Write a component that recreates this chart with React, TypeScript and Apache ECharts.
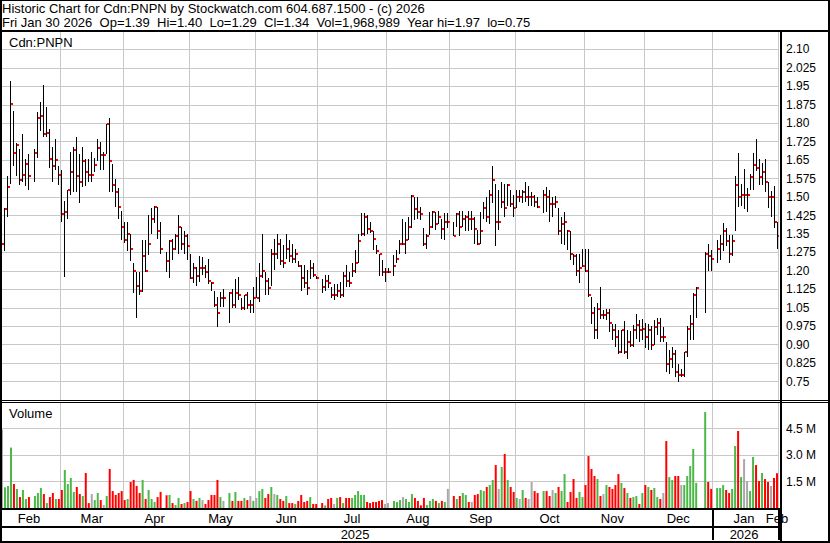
import React, { useEffect, useRef } from "react";
import * as echarts from "echarts";

// ---------- data (one slot per weekday, Feb 3 2025 .. Jan 30 2026; null = exchange holiday) ----------
const highs: (number | null)[] = [
  1.39, 1.455, 1.585, 1.97, 1.85, 1.72, 1.695, 1.755, 1.655, 1.675,
  null, 1.695, 1.845, 1.885, 1.955, 1.865, 1.775, 1.705, 1.735, 1.625,
  1.61, 1.485, 1.53, 1.685, 1.705, 1.745, 1.675, 1.705, 1.655, 1.655,
  1.685, 1.66, 1.735, 1.725, 1.685, 1.795, 1.82, 1.635, 1.575, 1.535,
  1.445, 1.40, 1.40, 1.35, 1.23, 1.195, 1.195, 1.325, 1.325, 1.425,
  1.455, 1.465, 1.46, 1.40, null, 1.275, 1.325, 1.33, 1.35, 1.425,
  1.38, 1.36, 1.35, 1.27, 1.23, 1.215, 1.26, 1.255, 1.225, 1.25,
  1.155, 1.12, 1.095, 1.115, 1.125, null, 1.115, 1.125, 1.165, 1.175,
  1.09, 1.10, 1.115, 1.08, 1.135, 1.175, 1.23, 1.35, 1.195, 1.17,
  1.29, 1.33, 1.35, 1.33, 1.305, 1.35, 1.325, 1.31, 1.29, 1.24,
  1.225, 1.225, 1.205, 1.245, 1.23, 1.18, null, 1.165, 1.185, 1.185,
  1.135, 1.145, 1.145, 1.155, 1.195, 1.225, 1.195, 1.23, 1.285, 1.35,
  1.435, 1.435, 1.425, 1.40, 1.36, 1.305, 1.27, 1.245, 1.21, 1.21,
  null, 1.265, 1.285, 1.325, 1.41, 1.40, 1.42, 1.51, 1.50, 1.50,
  1.46, 1.375, 1.35, 1.44, 1.445, 1.44, 1.445, 1.41, 1.435, 1.435,
  null, 1.40, 1.435, 1.445, 1.445, 1.425, 1.445, 1.445, 1.42, 1.365,
  1.44, 1.48, 1.50, 1.53, 1.625, 1.555, 1.53, 1.56, 1.555, 1.555,
  1.53, 1.51, 1.53, 1.53, 1.53, 1.56, 1.545, 1.52, 1.51, 1.50,
  null, 1.53, 1.54, 1.53, 1.50, 1.505, 1.455, 1.42, 1.44, 1.365,
  1.36, 1.27, 1.27, 1.27, 1.29, 1.29, 1.29, 1.095, 1.055, 1.07,
  1.135, 1.04, 1.045, 1.045, 0.985, 0.985, 0.96, 0.96, 0.995, 0.96,
  0.955, 0.98, 1.025, 1.00, 1.005, 0.99, 0.985, 0.975, 1.00, 1.01,
  1.01, 0.97, 0.91, 0.88, 0.89, 0.88, 0.82, 0.80, 0.87, 0.975,
  1.02, 1.11, 1.135, null, null, 1.275, 1.31, 1.285, null, 1.325,
  1.345, 1.395, 1.375, 1.345, 1.345, 1.585, 1.68, 1.555, 1.615, 1.535,
  1.595, 1.68, 1.735, 1.655, 1.64, 1.655, 1.56, 1.525, 1.545, 1.40,
];

const lows: (number | null)[] = [
  1.15, 1.28, 1.42, 1.555, 1.625, 1.585, 1.55, 1.56, 1.545, 1.53,
  null, 1.56, 1.66, 1.77, 1.745, 1.745, 1.62, 1.56, 1.61, 1.55,
  1.40, 1.175, 1.41, 1.51, 1.52, 1.52, 1.475, 1.54, 1.545, 1.56,
  1.56, 1.60, 1.645, 1.61, 1.61, 1.675, 1.52, 1.52, 1.46, 1.41,
  1.325, 1.315, 1.28, 1.24, 1.11, 1.01, 1.10, 1.115, 1.195, 1.265,
  1.35, 1.395, 1.33, 1.27, null, 1.195, 1.17, 1.245, 1.285, 1.27,
  1.285, 1.27, 1.245, 1.165, 1.15, 1.14, 1.155, 1.185, 1.17, 1.145,
  1.12, 1.055, 0.97, 1.055, 1.055, null, 0.99, 1.05, 1.05, 1.08,
  1.04, 1.04, 1.045, 1.03, 1.03, 1.09, 1.075, 1.17, 1.10, 1.10,
  1.14, 1.205, 1.25, 1.225, 1.21, 1.25, 1.235, 1.23, 1.23, 1.215,
  1.12, 1.13, 1.10, 1.165, 1.175, 1.165, null, 1.11, 1.12, 1.13,
  1.09, 1.08, 1.095, 1.09, 1.095, 1.135, 1.135, 1.175, 1.19, 1.23,
  1.34, 1.34, 1.35, 1.355, 1.285, 1.27, 1.18, 1.18, 1.155, 1.19,
  null, 1.18, 1.23, 1.27, 1.305, 1.27, 1.325, 1.375, 1.405, 1.41,
  1.405, 1.30, 1.29, 1.345, 1.375, 1.365, 1.39, 1.33, 1.325, 1.375,
  null, 1.34, 1.38, 1.34, 1.38, 1.36, 1.36, 1.365, 1.31, 1.305,
  1.31, 1.41, 1.40, 1.39, 1.475, 1.30, 1.365, 1.455, 1.42, 1.465,
  1.46, 1.42, 1.455, 1.48, 1.475, 1.48, 1.465, 1.465, 1.46, 1.455,
  null, 1.435, 1.44, 1.40, 1.42, 1.455, 1.345, 1.31, 1.305, 1.285,
  1.245, 1.225, 1.18, 1.15, 1.215, 1.195, 1.095, 0.985, 0.925, 0.925,
  1.005, 1.005, 1.00, 0.95, 0.92, 0.89, 0.86, 0.865, 0.86, 0.84,
  0.89, 0.89, 0.925, 0.91, 0.92, 0.885, 0.88, 0.88, 0.90, 0.94,
  0.91, 0.91, 0.79, 0.78, 0.805, 0.77, 0.75, 0.77, 0.77, 0.85,
  0.92, 0.92, 1.01, null, null, 1.03, 1.20, 1.20, null, 1.23,
  1.245, 1.28, 1.30, 1.23, 1.26, 1.36, 1.46, 1.465, 1.45, 1.44,
  1.53, 1.53, 1.605, 1.55, 1.55, 1.52, 1.455, 1.42, 1.375, 1.29,
];

const closes: (number | null)[] = [
  1.31, 1.45, 1.54, 1.88, 1.68, 1.71, 1.57, 1.59, 1.635, 1.585,
  null, 1.68, 1.82, 1.83, 1.755, 1.76, 1.655, 1.625, 1.65, 1.59,
  1.43, 1.44, 1.53, 1.60, 1.69, 1.585, 1.56, 1.645, 1.60, 1.59,
  1.59, 1.63, 1.70, 1.67, 1.67, 1.795, 1.645, 1.55, 1.52, 1.46,
  1.38, 1.325, 1.35, 1.29, 1.20, 1.14, 1.12, 1.26, 1.20, 1.31,
  1.41, 1.46, 1.36, 1.29, null, 1.24, 1.32, 1.29, 1.34, 1.38,
  1.31, 1.34, 1.30, 1.17, 1.21, 1.18, 1.21, 1.21, 1.195, 1.16,
  1.15, 1.06, 1.03, 1.09, 1.09, null, 1.11, 1.06, 1.11, 1.10,
  1.05, 1.10, 1.06, 1.06, 1.09, 1.09, 1.18, 1.20, 1.16, 1.13,
  1.27, 1.27, 1.31, 1.24, 1.23, 1.29, 1.26, 1.25, 1.27, 1.22,
  1.17, 1.15, 1.13, 1.21, 1.185, 1.17, null, 1.135, 1.16, 1.15,
  1.10, 1.10, 1.12, 1.10, 1.18, 1.16, 1.15, 1.20, 1.23, 1.32,
  1.35, 1.42, 1.37, 1.36, 1.33, 1.28, 1.27, 1.195, 1.195, 1.195,
  null, 1.22, 1.25, 1.31, 1.31, 1.325, 1.38, 1.505, 1.45, 1.44,
  1.43, 1.31, 1.34, 1.38, 1.44, 1.39, 1.42, 1.37, 1.40, 1.40,
  null, 1.34, 1.43, 1.38, 1.41, 1.42, 1.41, 1.41, 1.37, 1.31,
  1.36, 1.455, 1.42, 1.51, 1.57, 1.40, 1.40, 1.48, 1.455, 1.55,
  1.47, 1.455, 1.50, 1.50, 1.52, 1.50, 1.50, 1.50, 1.48, 1.46,
  null, 1.51, 1.50, 1.47, 1.47, 1.48, 1.36, 1.39, 1.40, 1.36,
  1.27, 1.26, 1.20, 1.21, 1.22, 1.20, 1.10, 1.03, 0.96, 1.045,
  1.02, 1.02, 1.03, 0.99, 0.96, 0.93, 0.87, 0.96, 0.87, 0.91,
  0.90, 0.96, 0.98, 0.96, 0.965, 0.93, 0.96, 0.90, 0.97, 0.99,
  0.93, 0.93, 0.82, 0.84, 0.86, 0.79, 0.775, 0.775, 0.87, 0.965,
  0.985, 1.10, 1.13, null, null, 1.27, 1.26, 1.25, null, 1.29,
  1.31, 1.36, 1.32, 1.27, 1.32, 1.55, 1.50, 1.51, 1.51, 1.51,
  1.58, 1.63, 1.62, 1.58, 1.60, 1.56, 1.50, 1.50, 1.40, 1.34,
];

// volume in millions of shares
const volumes: (number | null)[] = [
  4.45, 1.17, 1.25, 3.42, 1.36, 1.08, 0.62, 1.02, 0.51, 0.62,
  null, 0.68, 0.85, 1.13, 0.79, 0.28, 0.62, 0.85, 0.51, 0.51,
  1.02, 2.15, 1.36, 1.70, 0.91, 1.19, 0.79, 0.68, 1.98, 0.28,
  0.79, 0.45, 0.85, 0.45, 0.17, 0.68, 2.21, 0.96, 0.74, 0.85,
  0.96, 0.45, 0.51, 1.47, 1.59, 1.25, 0.85, 1.59, 0.51, 1.02,
  0.51, 0.34, 0.62, 0.91, null, 0.72, 0.74, 0.28, 0.17, 0.57,
  0.23, 0.28, 0.34, 0.96, 0.51, 0.40, 0.57, 0.45, 0.23, 0.45,
  0.74, 0.74, 1.59, 0.62, 0.40, null, 0.85, 0.40, 0.91, 0.40,
  0.40, 0.57, 0.45, 0.68, 0.40, 0.57, 0.96, 1.08, 0.57, 0.79,
  1.19, 0.79, 0.74, 0.51, 0.40, 0.68, 0.28, 0.28, 0.23, 0.40,
  0.74, 0.34, 0.40, 0.62, 0.23, 0.23, null, 0.28, 0.15, 0.51,
  0.57, 0.23, 0.57, 0.62, 0.28, 0.57, 0.57, 0.57, 0.74, 0.96,
  0.74, 0.74, 0.34, 0.28, 0.34, 0.34, 0.40, 0.45, 0.23, 0.28,
  null, 0.40, 0.34, 0.45, 0.62, 0.51, 0.34, 0.79, 0.57, 0.40,
  0.15, 0.57, 0.17, 0.40, 0.51, 0.40, 0.28, 0.40, 0.34, 1.08,
  null, 0.68, 0.51, 0.68, 0.85, 0.74, 0.34, 0.34, 0.74, 0.79,
  1.02, 0.96, 1.19, 1.30, 1.59, 2.43, 1.08, 2.32, 3.06, 1.59,
  1.19, 0.91, 0.57, 0.51, 1.02, 0.57, 0.51, 1.47, 0.96, 0.85,
  null, 0.96, 0.96, 0.68, 1.02, 0.85, 1.19, 0.96, 1.92, 0.34,
  0.91, 1.64, 0.57, 0.91, 0.62, 1.30, 2.94, 2.21, 1.81, 1.64,
  0.68, 0.79, 1.30, 1.19, 1.08, 1.30, 1.92, 1.42, 1.13, 0.85,
  0.57, 0.62, 0.68, 0.23, 0.85, 1.30, 1.19, 1.02, 1.13, 0.62,
  0.51, 0.85, 3.79, 1.75, 1.59, 1.81, 1.81, 1.30, 1.30, 1.81,
  2.38, 3.34, 1.42, null, null, 5.43, 1.47, 1.08, null, 1.13,
  1.13, 1.30, 1.02, 0.85, 1.08, 3.51, 4.36, 1.75, 2.77, 1.53,
  0.96, 2.89, 2.43, 1.53, 1.98, 1.64, 1.47, 1.25, 1.70, 1.968989,
];

const firstDay = "2025-02-03";
const lastDay = "2026-01-30";
const monthNames = ["Jan", "Feb", "Mar", "Apr", "May", "Jun", "Jul", "Aug", "Sep", "Oct", "Nov", "Dec"];

const priceAxis = { min: 0.675, max: 2.175, interval: 0.075 };
const volumeAxis = { min: 0, max: 6, interval: 1.5 };

const headerLine1 = "Historic Chart for Cdn:PNPN by Stockwatch.com 604.687.1500 - (c) 2026";
const headerLine2 =
  "Fri Jan 30 2026 \u00a0Op=1.39 \u00a0Hi=1.40 \u00a0Lo=1.29 \u00a0Cl=1.34 \u00a0Vol=1,968,989 \u00a0Year hi=1.97 \u00a0lo=0.75";
const symbolLabel = "Cdn:PNPN";
const volumeLabel = "Volume";

// ---------- styling ----------
const FONT = '"Liberation Sans", Arial, Helvetica, sans-serif';
const GRID_COLOR = "#c8c8c8";
const UP = "#4cb848";
const DOWN = "#ff0000";
const FLAT = "#a8a8a8";

function weekdays(start: string, end: string): string[] {
  const out: string[] = [];
  const d = new Date(start + "T00:00:00Z");
  const e = new Date(end + "T00:00:00Z").getTime();
  while (d.getTime() <= e) {
    const wd = d.getUTCDay();
    if (wd !== 0 && wd !== 6) out.push(d.toISOString().slice(0, 10));
    d.setUTCDate(d.getUTCDate() + 1);
  }
  return out;
}

const dates = weekdays(firstDay, lastDay);

// month starts / month label positions (centred in each month)
const monthStarts = new Set<number>();
const monthLabels = new Map<number, string>();
const yearStarts = new Set<number>();
const yearLabels = new Map<number, string>();
{
  let m0 = 0;
  for (let i = 1; i <= dates.length; i++) {
    if (i === dates.length || dates[i].slice(0, 7) !== dates[m0].slice(0, 7)) {
      monthStarts.add(m0);
      monthLabels.set(Math.floor((m0 + i - 1) / 2), monthNames[+dates[m0].slice(5, 7) - 1]);
      m0 = i;
    }
  }
  const lastMonth = +dates[dates.length - 1].slice(5, 7) - 1;
  monthLabels.set(dates.length - 1, monthNames[(lastMonth + 1) % 12]);
  let y0 = 0;
  for (let i = 1; i <= dates.length; i++) {
    if (i === dates.length || dates[i].slice(0, 4) !== dates[y0].slice(0, 4)) {
      yearStarts.add(y0);
      yearLabels.set(Math.floor((y0 + i - 1) / 2), dates[y0].slice(0, 4));
      y0 = i;
    }
  }
}

function volumeColor(i: number): string {
  const c = closes[i];
  let j = i - 1;
  while (j >= 0 && closes[j] == null) j--;
  if (j < 0 || c == null) return FLAT;
  const p = closes[j] as number;
  if (Math.abs(c - p) < 1e-9) return FLAT;
  return c > p ? UP : DOWN;
}

const priceData = dates
  .map((_, i) => (highs[i] == null ? null : [i, highs[i], lows[i], closes[i]]))
  .filter((d) => d !== null);

const volumeData = dates.map((_, i) =>
  volumes[i] == null ? "-" : { value: volumes[i], itemStyle: { color: volumeColor(i) } }
);

const fmtPrice = (v: number) => {
  const r = Math.round(v * 1000);
  return r % 10 === 0 ? (r / 1000).toFixed(2) : (r / 1000).toFixed(3);
};

const blk = (x: number, y: number, w: number, h: number) => ({
  type: "rect",
  z: 100,
  silent: true,
  shape: { x, y, width: w, height: h },
  style: { fill: "#000" },
});

const txt = (text: string, x: number, y: number) => ({
  type: "text",
  z: 100,
  silent: true,
  x,
  y,
  style: { text, fill: "#000", font: `13px ${FONT}`, align: "left", verticalAlign: "middle" },
});

export default function App() {
  const ref = useRef<HTMLDivElement>(null);

  useEffect(() => {
    if (!ref.current) return;
    const chart = echarts.init(ref.current, undefined, { renderer: "svg" });

    const splitX = {
      show: true,
      interval: (i: number) => monthStarts.has(i),
      lineStyle: { color: GRID_COLOR, width: 1 },
    };

    chart.setOption({
      animation: false,
      backgroundColor: "#ffffff",
      textStyle: { fontFamily: FONT },
      grid: [
        { left: 0.5, right: 51.5, top: 31, height: 369 },
        { left: 0.5, right: 51.5, top: 402, height: 106 },
      ],
      xAxis: [
        {
          type: "category",
          gridIndex: 0,
          data: dates,
          boundaryGap: true,
          axisLine: { show: false },
          axisTick: { show: false },
          axisLabel: { show: false },
          splitLine: splitX,
        },
        {
          type: "category",
          gridIndex: 1,
          data: dates,
          boundaryGap: true,
          axisLine: { show: false },
          axisTick: { show: false },
          axisLabel: {
            interval: (i: number) => monthLabels.has(i),
            formatter: (_v: string, i: number) => monthLabels.get(i) ?? "",
            margin: 4,
            color: "#000",
            fontSize: 13,
            fontFamily: FONT,
          },
          splitLine: splitX,
        },
        {
          type: "category",
          gridIndex: 1,
          data: dates,
          position: "bottom",
          boundaryGap: true,
          axisLine: { show: false },
          axisTick: {
            show: true,
            interval: (i: number) => yearStarts.has(i),
            length: 32,
            lineStyle: { color: "#000", width: 2 },
          },
          axisLabel: {
            interval: (i: number) => yearLabels.has(i),
            formatter: (_v: string, i: number) => yearLabels.get(i) ?? "",
            margin: 20,
            color: "#000",
            fontSize: 13,
            fontFamily: FONT,
          },
          splitLine: { show: false },
        },
      ],
      yAxis: [
        {
          type: "value",
          gridIndex: 0,
          position: "right",
          min: priceAxis.min,
          max: priceAxis.max,
          interval: priceAxis.interval,
          axisLine: { show: false },
          axisTick: { show: false },
          splitLine: { show: true, lineStyle: { color: GRID_COLOR, width: 1 } },
          axisLabel: {
            margin: 7.5,
            color: "#000",
            fontSize: 12,
            fontFamily: FONT,
            showMinLabel: false,
            showMaxLabel: false,
            formatter: fmtPrice,
          },
        },
        {
          type: "value",
          gridIndex: 1,
          position: "right",
          min: volumeAxis.min,
          max: volumeAxis.max,
          interval: volumeAxis.interval,
          axisLine: { show: false },
          axisTick: { show: false },
          splitLine: { show: true, lineStyle: { color: GRID_COLOR, width: 1 } },
          axisLabel: {
            margin: 7.5,
            color: "#000",
            fontSize: 12,
            fontFamily: FONT,
            showMinLabel: false,
            showMaxLabel: false,
            formatter: (v: number) => `${v.toFixed(1)} M`,
          },
        },
      ],
      series: [
        {
          type: "custom",
          xAxisIndex: 0,
          yAxisIndex: 0,
          data: priceData,
          encode: { x: 0, y: [1, 2, 3] },
          clip: true,
          renderItem: (_params: any, api: any) => {
            const i = api.value(0);
            const pH = api.coord([i, api.value(1)]);
            const pL = api.coord([i, api.value(2)]);
            const pC = api.coord([i, api.value(3)]);
            const x = Math.floor(pH[0]);
            const yH = Math.round(pH[1]);
            const yL = Math.round(pL[1]);
            const yC = Math.round(pC[1]);
            return {
              type: "group",
              children: [
                {
                  type: "rect",
                  shape: { x, y: yH, width: 1, height: Math.max(1, yL - yH) },
                  style: { fill: "#000" },
                },
                {
                  type: "rect",
                  shape: { x: x + 1, y: yC - 1, width: 2, height: 2 },
                  style: { fill: "#ff0000" },
                },
              ],
            };
          },
        },
        {
          type: "bar",
          xAxisIndex: 1,
          yAxisIndex: 1,
          data: volumeData,
          barWidth: 2,
          barGap: "0%",
        },
      ],
      graphic: [
        // frame and panel separators
        blk(0, 0, 830, 1),
        blk(0, 0, 2, 543),
        blk(828, 0, 2, 543),
        blk(0, 541, 830, 2),
        blk(0, 30, 830, 2),
        blk(0, 400, 830, 1),
        blk(0, 402, 830, 1),
        blk(780, 30, 2, 513),
        blk(0, 508, 780, 2),
        blk(0, 526, 780, 2),
        txt(headerLine1, 2, 8.5),
        txt(headerLine2, 2, 22.8),
        txt(symbolLabel, 9, 42),
        txt(volumeLabel, 9, 413.3),
      ],
    });

    return () => chart.dispose();
  }, []);

  return (
    <div
      ref={ref}
      style={{ position: "absolute", left: 0, top: 0, width: 830, height: 543, background: "#fff" }}
    />
  );
}
